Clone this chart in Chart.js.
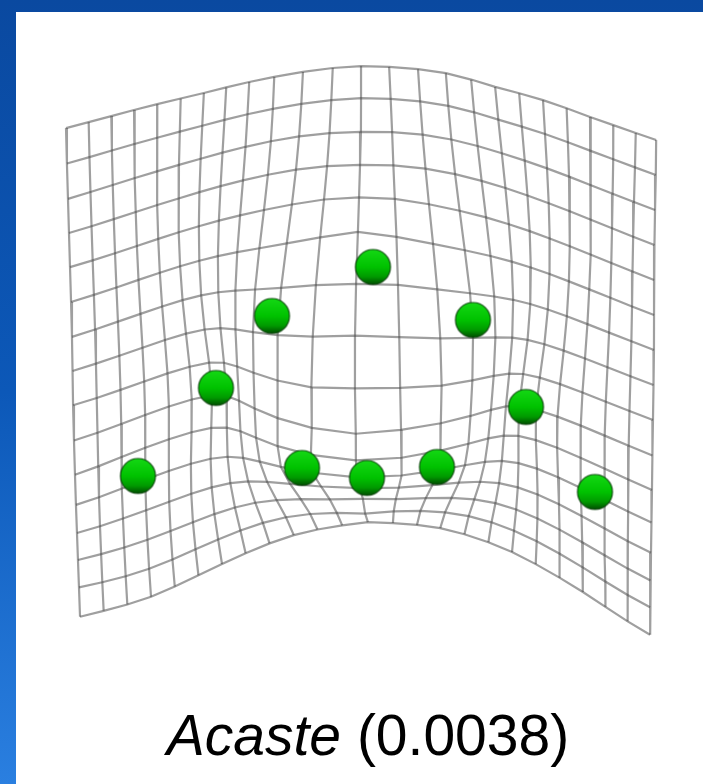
<!DOCTYPE html>
<html>
<head>
<meta charset="utf-8">
<script src="https://cdn.jsdelivr.net/npm/chart.js@4.4.1/dist/chart.umd.min.js"></script>
<style>
  html, body { margin: 0; padding: 0; }
  body {
    width: 703px; height: 784px; overflow: hidden; position: relative;
    background: linear-gradient(to bottom, #0a49a0 0%, #0c58b8 50%, #2a7fe0 100%);
  }
  #panel { position: absolute; left: 16px; top: 12px; right: 0; bottom: 0; background: #ffffff; }
  #plot { position: absolute; left: 0; top: 0; }
  #caption {
    position: absolute; left: 0; top: 707px; width: 736px; text-align: center;
    font-family: "Liberation Sans", Arial, sans-serif; font-size: 57px; line-height: 1;
    color: #000; white-space: nowrap;
  }
</style>
</head>
<body>
<div id="panel"></div>
<canvas id="plot" width="703" height="784"></canvas>
<div id="caption"><i id="taxon"></i> <span id="value"></span></div>
<script>
// Acaste cephalon landmarks (digitizer units, y up, landmark 9 at the origin)
const landmarkX = [-229, -151, -95, 6, 106, 159, 228, -65, 0, 70];
const landmarkY = [2, 90, 162, 211, 158, 71, -14, 10, 0, 11];
// Where each landmark falls on the reference grid (column, row)
const landmarkCol = [2.7, 6.2, 9.8, 12.4, 15.0, 18.5, 21.6, 10.8, 12.2, 13.9];
const landmarkRow = [10.8, 8.8, 6.6, 5.7, 6.6, 9.0, 10.9, 10.8, 11.0, 10.8];

// Reference grid size (cells)
const gridColumns = 24;
const gridRows = 15;

// Digitized grid intersections: outline, midline and the widened central cells
const nodeCol = [
  0, 3, 6, 9, 11, 12, 13, 15, 17, 19, 21, 23, 24,          // top edge
  0, 3, 6, 9, 12, 15, 18, 21, 24,                          // bottom edge
  0, 0, 0, 0, 0, 0, 0,                                     // left edge
  24, 24, 24, 24, 24, 24, 24,                              // right edge
  12, 12, 12, 12, 12, 12, 12, 12, 12, 12, 12,              // midline
  13, 13, 11, 14                                           // central cells
];
const nodeRow = [
  0, 0, 0, 0, 0, 0, 0, 0, 0, 0, 0, 0, 0,
  15, 15, 15, 15, 15, 15, 15, 15, 15,
  2, 4, 6, 8, 10, 12, 14,
  2, 4, 6, 8, 10, 12, 14,
  1, 2, 3, 4, 5, 6, 7, 8, 9, 13, 14,
  6, 8, 8, 8
];
const nodeX = [
  -301, -233, -163, -93, -34, -6, 22, 79, 128, 176, 223, 269, 289,
  -287, -216, -145, -73, 1, 73, 145, 216, 283,
  -299, -297, -295, -294, -292, -290, -288,
  288, 287, 287, 286, 285, 284, 283,
  -6, -6, -7, -8, -9, -11, -12, -12, -11, -4, -2,
  31, 33, -56, 75
];
const nodeY = [
  350, 368, 385, 401, 410, 412, 411, 405, 391, 378, 361, 345, 338,
  -139, -119, -86, -57, -43, -50, -74, -114, -157,
  279, 211, 141, 73, 3, -55, -109,
  268, 198, 128, 58, -12, -75, -129,
  380, 346, 313, 280, 248, 193, 143, 90, 43, -20, -37,
  193, 90, 90, 92
];

// Caption: taxon and its Procrustes distance
const taxonName = 'Acaste';
const procrustesDistance = '0.0038';

document.getElementById('taxon').textContent = taxonName;
document.getElementById('value').textContent = '(' + procrustesDistance + ')';

// ---- thin-plate spline from grid (column,row) space to plot space ----
function kernel(r2) { return r2 === 0 ? 0 : r2 * Math.log(r2); }

function solve(A, b) {
  const n = b.length;
  const M = A.map((row, i) => row.concat([b[i]]));
  for (let c = 0; c < n; c++) {
    let p = c;
    for (let r = c + 1; r < n; r++) if (Math.abs(M[r][c]) > Math.abs(M[p][c])) p = r;
    [M[c], M[p]] = [M[p], M[c]];
    for (let r = 0; r < n; r++) {
      if (r === c) continue;
      const f = M[r][c] / M[c][c];
      for (let k = c; k <= n; k++) M[r][k] -= f * M[c][k];
    }
  }
  return M.map((row, i) => row[n] / row[i]);
}

function buildSpline(cols, rows, xs, ys, smoothing) {
  const n = cols.length, m = n + 3;
  const A = [];
  for (let i = 0; i < m; i++) A.push(new Array(m).fill(0));
  for (let i = 0; i < n; i++) {
    for (let j = 0; j < n; j++) {
      const dc = cols[i] - cols[j], dr = rows[i] - rows[j];
      A[i][j] = kernel(dc * dc + dr * dr);
    }
    A[i][i] += smoothing;
    A[i][n] = 1; A[i][n + 1] = cols[i]; A[i][n + 2] = rows[i];
    A[n][i] = 1; A[n + 1][i] = cols[i]; A[n + 2][i] = rows[i];
  }
  const wx = solve(A, xs.concat([0, 0, 0]));
  const wy = solve(A, ys.concat([0, 0, 0]));
  return function (c, r) {
    let x = wx[n] + wx[n + 1] * c + wx[n + 2] * r;
    let y = wy[n] + wy[n + 1] * c + wy[n + 2] * r;
    for (let i = 0; i < n; i++) {
      const dc = c - cols[i], dr = r - rows[i];
      const u = kernel(dc * dc + dr * dr);
      x += wx[i] * u; y += wy[i] * u;
    }
    return { x, y };
  };
}

const warp = buildSpline(
  landmarkCol.concat(nodeCol),
  landmarkRow.concat(nodeRow),
  landmarkX.concat(nodeX),
  landmarkY.concat(nodeY),
  0.8
);

const gridStyle = {
  showLine: true, fill: false, tension: 0, pointRadius: 0, pointHoverRadius: 0,
  borderColor: 'rgba(70,70,70,0.52)', borderWidth: 2.2
};

const datasets = [];
for (let r = 0; r <= gridRows; r++) {
  const pts = [];
  for (let c = 0; c <= gridColumns; c++) pts.push(warp(c, r));
  datasets.push(Object.assign({ data: pts }, gridStyle));
}
for (let c = 0; c <= gridColumns; c++) {
  const pts = [];
  for (let r = 0; r <= gridRows; r++) pts.push(warp(c, r));
  datasets.push(Object.assign({ data: pts }, gridStyle));
}

// Shaded green sphere used as the landmark marker
function sphereSprite(radius) {
  const size = Math.ceil(radius * 2 + 4);
  const cv = document.createElement('canvas');
  cv.width = size; cv.height = size;
  const g = cv.getContext('2d');
  const c = size / 2;
  const grad = g.createLinearGradient(0, c - radius, 0, c + radius);
  grad.addColorStop(0, '#14d814');
  grad.addColorStop(0.5, '#00c200');
  grad.addColorStop(0.78, '#009a00');
  grad.addColorStop(1, '#004c00');
  g.beginPath();
  g.arc(c, c, radius, 0, Math.PI * 2);
  g.fillStyle = grad;
  g.fill();
  g.lineWidth = 1.2;
  g.strokeStyle = 'rgba(0,55,0,0.85)';
  g.stroke();
  return cv;
}

datasets.push({
  data: landmarkX.map((x, i) => ({ x, y: landmarkY[i] })),
  showLine: false,
  pointStyle: sphereSprite(17.5),
  pointRadius: 18,
  order: -1,
  clip: false
});

new Chart(document.getElementById('plot'), {
  type: 'scatter',
  data: { datasets },
  options: {
    responsive: false,
    animation: false,
    devicePixelRatio: 1,
    layout: { padding: 0, autoPadding: false },
    plugins: { legend: { display: false }, tooltip: { enabled: false } },
    events: [],
    scales: {
      x: { type: 'linear', display: false, min: -367, max: 336 },
      y: { type: 'linear', display: false, min: -306, max: 478 }
    }
  }
});
</script>
</body>
</html>
